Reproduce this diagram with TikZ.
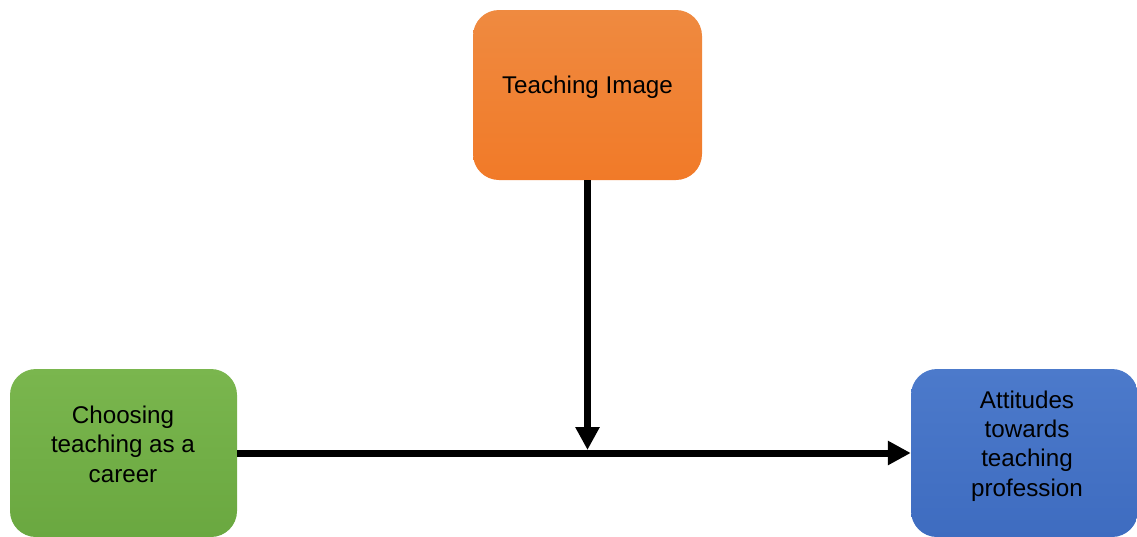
\documentclass[tikz,border=0pt]{standalone}
\usepackage{fontspec}
\setmainfont{Liberation Sans}
\usetikzlibrary{arrows.meta}
\definecolor{orTop}{RGB}{239,138,64}
\definecolor{orBot}{RGB}{241,122,40}
\definecolor{grTop}{RGB}{122,182,78}
\definecolor{grBot}{RGB}{106,168,64}
\definecolor{blTop}{RGB}{76,122,203}
\definecolor{blBot}{RGB}{62,108,192}
\tikzset{
  box/.style={rectangle, rounded corners=26pt, inner sep=0pt, minimum width=#1, minimum height=170pt},
  boxtext/.style={align=center, font=\fontsize{24.2}{29.4}\selectfont, text=black},
  conn/.style={line width=7pt, -{Triangle[length=23pt,width=23pt]}}
}
\begin{document}
\begin{tikzpicture}[x=1pt,y=-1pt]
\useasboundingbox (0,0) rectangle (1137,536);
\node[box=229pt, top color=orTop, bottom color=orBot] (img) at (587.5,95) {};
\node[box=227pt, minimum height=168pt, top color=grTop, bottom color=grBot] (choose) at (123.5,453) {};
\node[box=227pt, minimum height=168pt, top color=blTop, bottom color=blBot] (att) at (1024.5,453) {};
\node[boxtext] (imgtxt) at (587.5,87) {Teaching Image};
\node[boxtext] (choosetxt) at (123,444) {Choosing\\teaching as a\\career};
\node[boxtext] (atttxt) at (1027,446) {Attitudes\\towards\\teaching\\profession};
\coordinate (meet) at (587.5,450);
\draw[conn] (img.south) -- (meet);
\draw[conn] (choose.east) -- (att.west);
\end{tikzpicture}
\end{document}
